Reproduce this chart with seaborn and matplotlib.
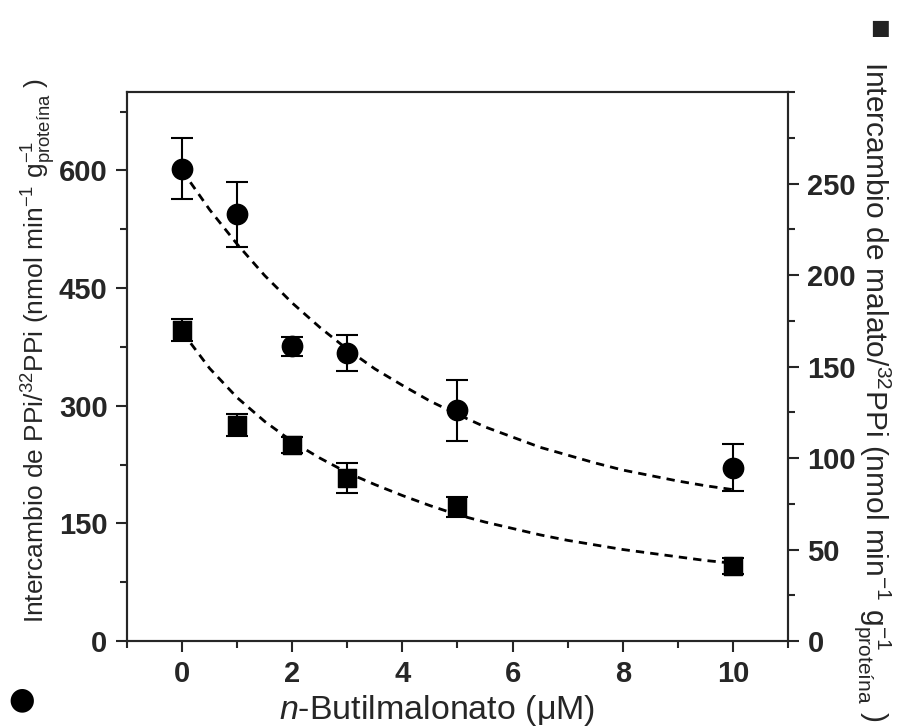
import matplotlib
matplotlib.use('Agg')
import matplotlib.pyplot as plt
import seaborn as sns
import pandas as pd
from matplotlib.ticker import MultipleLocator, FixedLocator

# measured points
conc = [0, 1, 2, 3, 5, 10]
ppi_exchange = [602, 544, 376, 367, 294, 221]
ppi_err = [39, 41, 12, 23, 39, 30]
malate_exchange = [170, 118, 107, 89, 73, 41]
malate_err = [6, 6, 4.5, 8, 5.5, 4.5]

# dashed fit curves
fit_x = [0, 0.5, 1, 1.5, 2, 2.5, 3, 3.5, 4, 4.5, 5, 5.5, 6, 6.5, 7, 7.5, 8, 8.5, 9, 9.5, 10]
ppi_fit = [600, 550, 506, 466, 431, 400, 372, 347, 326, 306, 289, 273, 260, 247, 237, 227, 218, 211, 204, 198, 193]
malate_fit = [169, 149, 133, 120, 109, 100, 92, 85.5, 79.5, 74, 69, 65, 61.5, 58, 55, 52.5, 50, 48, 46, 44, 42.5]

# tick labels
left_ticks = [0, 150, 300, 450, 600]
right_ticks = [0, 50, 100, 150, 200, 250]

sns.set_style('ticks')
plt.rcParams['font.family'] = ['Liberation Sans', 'DejaVu Sans']
plt.rcParams['mathtext.fontset'] = 'custom'
plt.rcParams['mathtext.rm'] = 'Liberation Sans'
plt.rcParams['mathtext.it'] = 'Liberation Sans:italic'
plt.rcParams['mathtext.bf'] = 'Liberation Sans:bold'

pts = pd.DataFrame({'x': conc, 'ppi': ppi_exchange, 'malate': malate_exchange})
fits = pd.DataFrame({'x': fit_x, 'ppi': ppi_fit, 'malate': malate_fit})

fig = plt.figure(figsize=(8.98, 7.28), dpi=100)
ax = fig.add_axes([0.1414, 0.1195, 0.7361, 0.7541])
ax2 = ax.twinx()

dash = (0, (3, 2.2))

# circles on left axis
sns.lineplot(data=fits, x='x', y='ppi', ax=ax, color='black', lw=2.0, linestyle=dash)
ax.errorbar(conc, ppi_exchange, yerr=ppi_err, fmt='none', ecolor='black',
            elinewidth=1.5, capsize=8, capthick=1.5)
sns.scatterplot(data=pts, x='x', y='ppi', ax=ax, marker='o', s=210,
                color='black', edgecolor='black', zorder=5)

# squares on right axis
sns.lineplot(data=fits, x='x', y='malate', ax=ax2, color='black', lw=2.0, linestyle=dash)
ax2.errorbar(conc, malate_exchange, yerr=malate_err, fmt='none', ecolor='black',
             elinewidth=1.5, capsize=8, capthick=1.5)
sns.scatterplot(data=pts, x='x', y='malate', ax=ax2, marker='s', s=170,
                color='black', edgecolor='black', zorder=5)

ax.set_xlim(-1, 11)
ax.set_ylim(0, 700)
ax2.set_ylim(0, 300)

ax.xaxis.set_major_locator(MultipleLocator(2))
ax.xaxis.set_minor_locator(MultipleLocator(1))
ax.yaxis.set_major_locator(FixedLocator(left_ticks))
ax.yaxis.set_minor_locator(MultipleLocator(75))
ax2.yaxis.set_major_locator(FixedLocator(right_ticks))
ax2.yaxis.set_minor_locator(MultipleLocator(25))

for a in (ax, ax2):
    for sp in a.spines.values():
        sp.set_visible(True)
        sp.set_linewidth(1.5)
    a.tick_params(which='major', length=8, width=1.5, labelsize=21, pad=6)
    a.tick_params(which='minor', length=5, width=1.5)
    for lab in a.get_xticklabels() + a.get_yticklabels():
        lab.set_fontweight('bold')
ax.tick_params(top=False, which='both')

ax.set_xlabel(r'$\mathbf{\mathit{n}}$-Butilmalonato (μM)', fontsize=24.5)
ax.xaxis.set_label_coords(0.469, -0.094)
ax.set_ylabel(r'Intercambio de PPi/$^{32}$PPi (nmol min$^{-1}$ g$^{-1}_{\mathrm{proteína}}$ )',
              fontsize=19)
ax.yaxis.set_label_coords(-0.105, 0.53)
ax2.set_ylabel(r'Intercambio de malato/$^{32}$PPi (nmol min$^{-1}$ g$^{-1}_{\mathrm{proteína}}$ )',
               fontsize=21.5, rotation=270, va='center')
ax2.yaxis.set_label_coords(1.128, 0.455)

# series symbols next to the axis labels
fig.text(22 / 898, 1 - 700 / 728, '●', fontsize=22, ha='center', va='center',
         family='DejaVu Sans', color='black')
fig.text(880 / 898, 1 - 28 / 728, '■', fontsize=15, ha='center', va='center',
         family='DejaVu Sans', color='#222222')

fig.savefig('out.png', dpi=100)
plt.close(fig)
